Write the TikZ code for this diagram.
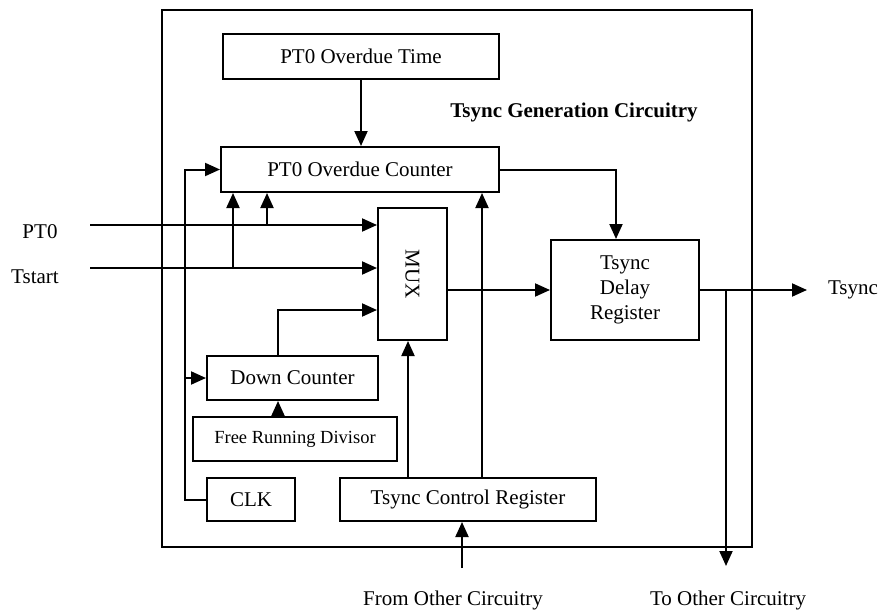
\documentclass[tikz,border=0pt]{standalone}
\usepackage{fontspec}
\setmainfont{Liberation Serif}
\usetikzlibrary{arrows.meta}
\begin{document}
\begin{tikzpicture}[x=1pt,y=-1pt,
  line width=2pt,
  box/.style={draw, rectangle, inner sep=0pt, align=center,
    font=\fontsize{21}{25}\selectfont},
  arr/.style={-{Triangle[length=15pt,width=13pt]}},
  lbl/.style={inner sep=0pt, font=\fontsize{21}{25}\selectfont}]
\useasboundingbox (0,0) rectangle (887,613);

% enclosing block
\node[draw, rectangle, minimum width=590pt, minimum height=537pt] (frame) at (457,278.5) {};
\node[inner sep=0pt, font=\bfseries\fontsize{21}{25}\selectfont] (title) at (574,112)
  {Tsync Generation Circuitry};

% functional blocks
\node[box, minimum width=276pt, minimum height=45pt] (ot)  at (361,56.5)  {PT0 Overdue Time};
\node[box, minimum width=278pt, minimum height=45pt] (oc)  at (360,169.5) {PT0 Overdue Counter};
\node[box, minimum width=69pt,  minimum height=132pt] (mux) at (412.5,274) {\rotatebox{-90}{MUX}};
\node[box, minimum width=148pt, minimum height=100pt] (dr)  at (625,290)   {Tsync\\Delay\\Register};
\node[box, minimum width=171pt, minimum height=44pt] (dc)  at (292.5,378) {Down Counter};
\node[box, minimum width=204pt, minimum height=44pt, font=\fontsize{18.5}{22}\selectfont]
  (frd) at (295,439) {Free Running Divisor};
\node[box, minimum width=88pt,  minimum height=43pt] (clk) at (251,499.5) {CLK};
\node[box, minimum width=256pt, minimum height=43pt] (tcr) at (468,499.5) {Tsync Control Register};

% external signal labels
\node[lbl] (pt0lbl)    at (40,232)  {PT0};
\node[lbl] (tstartlbl) at (35,277)  {Tstart};
\node[lbl] (tsynclbl)  at (853,290) {Tsync};
\node[lbl] (fromlbl)   at (453,600) {From Other Circuitry};
\node[lbl] (tolbl)     at (728,600) {To Other Circuitry};

% helper coordinates for wire routing
\coordinate (pt0in)    at (90,225);
\coordinate (tstartin) at (90,268);
\coordinate (fromin)   at (462,568);
\coordinate (toout)    at (726,566);
\coordinate (tsyncout) at (807,290);
\coordinate (xfb)  at (185,0);
\coordinate (x233) at (233,0);
\coordinate (x267) at (267,0);
\coordinate (x278) at (278,0);
\coordinate (x408) at (408,0);
\coordinate (x482) at (482,0);
\coordinate (x616) at (616,0);
\coordinate (x726) at (726,0);
\coordinate (y310) at (0,310);

% wires
\draw[arr] (ot.south) -- (ot.south |- oc.north);
\draw[arr] (clk.west) -- (clk.west -| xfb) |- (oc.west);
\draw[arr] (dc.west -| xfb) -- (dc.west);
\draw[arr] (pt0in) -- (pt0in -| mux.west);
\draw[arr] (pt0in -| x267) -- (oc.south -| x267);
\draw[arr] (tstartin) -- (tstartin -| mux.west);
\draw[arr] (tstartin -| x233) -- (oc.south -| x233);
\draw[arr] (dc.north -| x278) |- (mux.west |- y310);
\draw[arr] (frd.north -| x278) -- (dc.south -| x278);
\draw[arr] (tcr.north -| x408) -- (mux.south -| x408);
\draw[arr] (tcr.north -| x482) -- (oc.south -| x482);
\draw[arr] (oc.east) -| (x616 |- dr.north);
\draw[arr] (mux.east |- dr.west) -- (dr.west);
\draw[arr] (dr.east) -- (tsyncout);
\draw[arr] (dr.east -| x726) -- (toout);
\draw[arr] (fromin) -- (fromin |- tcr.south);
\end{tikzpicture}
\end{document}
